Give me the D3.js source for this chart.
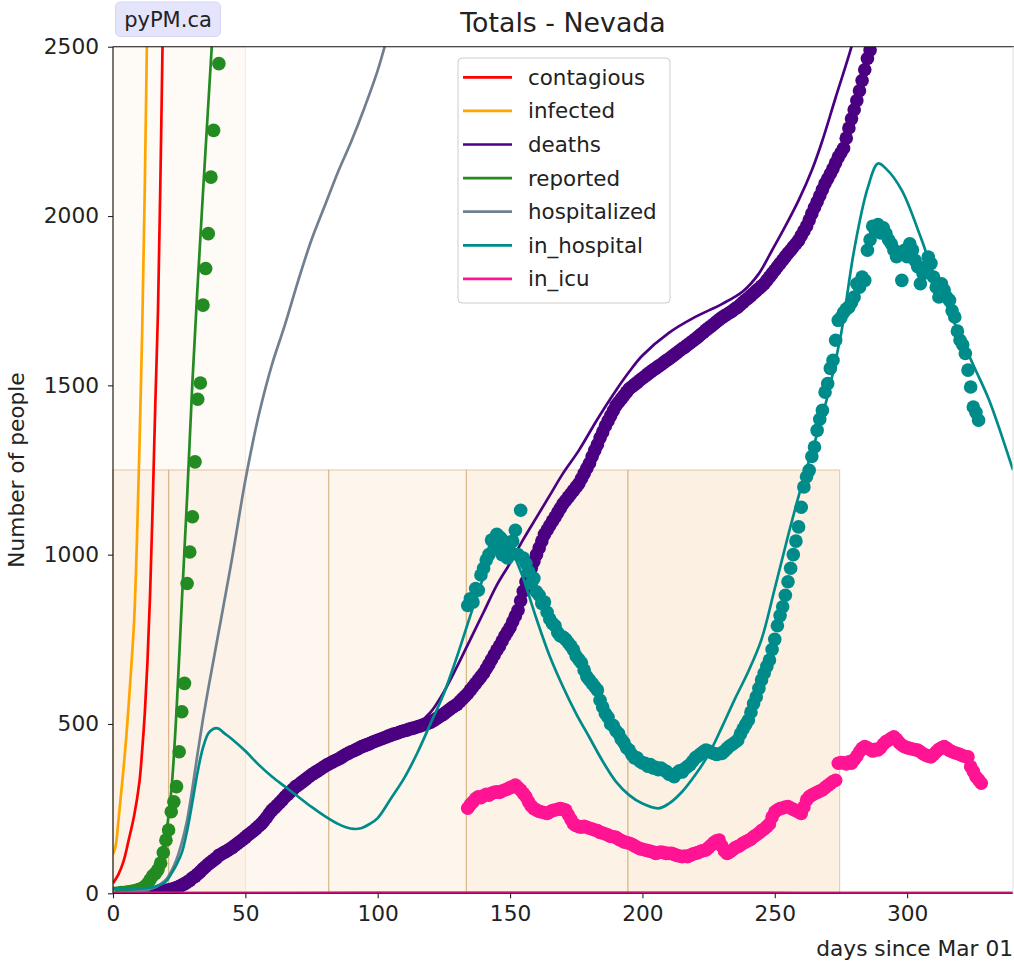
<!DOCTYPE html>
<html>
<head>
<meta charset="utf-8">
<script src="https://cdn.jsdelivr.net/npm/d3@7"></script>
<style>
	body { margin: 0; background: #fff; }
	text { font-family: "DejaVu Sans", sans-serif; fill: #222; }
</style>
</head>
<body>
<div class="chart"></div>
<script>
/*---------------------------DATA--------------------------*/

var title = 'Totals - Nevada';
var xTicks = [0, 50, 100, 150, 200, 250, 300];
var yTicks = [0, 500, 1000, 1500, 2000, 2500];
var spanEdges = [0, 21, 81.5, 133.5, 194.5, 274.5];   // shaded periods, days
var fitBand = [0, 50];

// model lines, [day, people]
var contagiousModel = [[0,30],[2,55],[4,95],[6,160],[8,230],[10,330],[11,420],[12,530],[13,680],[14,880],[15,1150],[16,1450],[17,1720],[18,2150],[19,2650]];
var infectedModel = [[0,115],[1,140],[2,210],[3,290],[4,370],[5,460],[6,565],[7,680],[8,807],[9,1030],[10,1320],[11,1650],[12,2080],[13,2620]];
var deathsModel = [[0,0],[15,1],[20,5],[25,15],[30,42],[35,78],[40,110],[50,165],[60,240],[70,315],[80,372],[90,420],[100,455],[110,482],[115,500],[120,535],[125,595],[130,670],[135,750],[140,830],[145,910],[150,975],[155,1045],[160,1110],[165,1175],[170,1240],[176,1308],[183,1400],[190,1485],[195,1540],[200,1588],[210,1655],[220,1702],[230,1740],[238,1778],[244,1830],[249,1899],[254,1970],[259,2046],[264,2135],[268,2223],[273,2350],[279,2500],[283,2620]];
var reportedModel = [[0,15],[5,18],[10,28],[14,45],[16,65],[18,105],[20,175],[22,300],[24,540],[26,860],[28,1170],[30,1510],[32,1800],[34,2070],[36,2330],[38,2590]];
var hospitalizedModel = [[0,0],[15,15],[20,40],[22,65],[24,100],[26,150],[28,216],[30,310],[32,415],[34,515],[36,605],[38,690],[40,775],[42,860],[45,990],[48,1130],[50,1220],[55,1410],[60,1560],[65,1680],[70,1810],[75,1930],[80,2030],[85,2130],[90,2220],[95,2320],[100,2430],[104,2540]];
var inHospitalModel = [[0,12],[10,14],[15,18],[20,35],[22,58],[24,85],[26,120],[28,185],[30,270],[32,360],[34,430],[36,472],[38,486],[39,488],[40,486],[42,473],[45,455],[50,420],[55,380],[60,345],[65,315],[70,285],[75,255],[80,228],[85,205],[88,195],[91,190],[94,193],[97,205],[100,222],[105,280],[110,340],[115,415],[120,502],[125,590],[130,700],[135,820],[140,935],[145,1040],[147,1063],[149,1050],[152,990],[155,930],[160,810],[165,700],[170,610],[175,530],[180,460],[185,390],[190,330],[195,290],[200,265],[206,251],[210,265],[215,300],[220,350],[225,410],[230,490],[235,575],[240,655],[245,750],[250,900],[255,1055],[260,1200],[265,1330],[270,1470],[275,1650],[280,1900],[285,2080],[289,2155],[292,2140],[298,2076],[305,1940],[310,1830],[318,1682],[325,1560],[331,1456],[340,1250]];
var inIcuModel = [[0,1],[100,2],[200,2],[340,1]];

// observed data
var reportedData = [[3,2],[4,2],[5,3],[6,4],[7,5],[8,6],[9,8],[10,11],[11,14],[12,20],[13,28],[14,40],[15,52],[16,59],[17,70],[18,89],[19,120],[20,157],[21,187],[22,241],[23,270],[24,315],[25,418],[26,536],[27,620],[28,915],[29,1008],[30,1112],[31,1274],[32,1459],[33,1507],[34,1737],[35,1845],[36,1948],[37,2115],[38,2253],[40,2450]];

var deathsStart = 16;
var deathsData = [2,3,4,6,8,10,12,14,17,20,24,28,33,38,
	45,50,57,64,72,79,86,92,98,104,
	112,116,121,125,130,135,141,147,153,159,
	165,172,178,184,191,198,205,214,224,235,
	245,252,260,268,276,285,292,300,307,315,
	320,326,332,338,344,350,355,360,365,370,
	375,380,384,388,392,396,400,405,410,414,
	418,421,425,429,433,436,439,442,446,449,
	452,455,458,461,464,467,470,472,475,478,
	480,482,485,487,489,492,494,497,500,502,
	505,510,515,520,525,530,536,542,548,553,
	558,566,574,582,590,600,610,620,630,640,
	650,663,676,690,704,718,730,745,760,772,
	785,802,819,836,864,892,920,940,960,980,
	1000,1020,1040,1060,1073,1086,1099,1111,1124,1137,
	1150,1160,1170,1180,1190,1200,1210,1225,1240,1255,
	1270,1290,1308,1325,1345,1362,1380,1395,1410,1425,
	1440,1450,1460,1470,1480,1490,1496,1502,1508,1515,
	1521,1527,1533,1539,1545,1550,1556,1561,1567,1573,
	1578,1584,1590,1596,1602,1608,1613,1619,1625,1631,
	1637,1643,1650,1656,1663,1669,1675,1681,1688,1694,
	1700,1705,1710,1715,1720,1726,1731,1738,1745,1752,
	1758,1765,1772,1779,1786,1793,1800,1810,1820,1830,
	1840,1850,1860,1870,1880,1890,1899,1909,1918,1928,
	1942,1956,1970,1988,2007,2025,2042,2060,2078,2096,
	2110,2125,2140,2157,2174,2187,2200,2230,2260,2287,
	2314,2341,2370,2400,2432,2465,2490];

var inHospitalStart = 134;
var inHospitalData = [850,870,860,900,895,940,960,984,1000,1043,1020,1060,1053,1000,1033,990,1010,1040,1072,1000,1131,990,974,950,915,930,
	890,880,856,860,830,810,797,790,770,760,757,750,740,730,718,700,690,680,659,640,
	630,620,610,600,570,550,531,520,500,495,480,472,455,445,430,423,410,400,400,390,
	385,384,375,380,370,372,365,370,364,360,352,350,344,355,362,358,368,374,380,390,
	400,405,412,418,423,420,416,413,410,412,413,420,428,435,440,446,452,470,485,498,
	511,535,560,580,605,630,650,670,689,720,750,790,820,846,880,920,960,1000,1040,1082,
	1140,1200,1230,1249,1290,1318,1367,1400,1426,1480,1505,1550,1574,1633,1692,1700,1715,1725,1731,1745,
	1761,1800,1790,1820,1810,1899,1930,1970,1958,1975,1950,1965,1948,1930,1918,1900,1880,1890,1810,1899,
	1880,1918,1900,1869,1850,1800,1830,1850,1879,1860,1820,1790,1761,1800,1781,1760,1751,1720,1702,1660,
	1633,1620,1594,1545,1495,1436,1420,1397];

var inIcuStart = 134;
var inIcuData = [251,262,270,280,285,282,288,292,290,295,298,300,298,302,305,308,312,315,320,312,305,295,285,270,258,250,
	246,242,240,238,236,240,244,246,248,250,248,246,232,218,205,200,197,195,198,195,
	192,190,187,185,180,178,175,172,168,167,165,160,156,152,150,148,145,140,136,132,
	130,128,126,124,122,118,120,122,120,118,118,118,115,112,110,108,110,108,112,116,
	118,120,124,126,128,135,142,150,155,157,140,125,118,122,128,134,138,142,148,152,
	156,160,167,172,178,185,190,197,205,225,240,246,250,252,255,256,252,248,244,240,
	236,255,275,285,290,294,298,302,305,312,318,324,330,334,384,386,385,382,388,384,
	395,405,418,428,433,430,425,420,425,423,430,440,448,452,458,462,455,445,438,433,
	430,428,426,424,423,418,412,408,405,403,410,418,425,430,433,428,422,418,415,413,
	410,406,404,403,374,360,344,335,325];

/*---------------------------SETUP--------------------------*/

var w = 1014;
var h = 962;
var pLeft = 113, pRight = 1013, pTop = 46.7, pBottom = 893.3;
var fontSize = '21.7px';

var x = d3.scaleLinear().domain([0, 340]).range([pLeft, pRight]);
var y = d3.scaleLinear().domain([0, 2500]).range([pBottom, pTop]);

var svg = d3.select('.chart').append('svg')
	.attr('width', w)
	.attr('height', h);

svg.append('defs').append('clipPath')
	.attr('id', 'plotClip')
	.append('rect')
	.attr('x', pLeft)
	.attr('y', pTop)
	.attr('width', pRight - pLeft)
	.attr('height', pBottom - pTop);

/*---------------------------SHADED PERIODS--------------------------*/

var spanAlpha = [0.12, 0.12, 0.15, 0.2, 0.24];

svg.append('rect')
	.attr('x', x(fitBand[0]))
	.attr('y', y(2500))
	.attr('width', x(fitBand[1]) - x(fitBand[0]))
	.attr('height', y(0) - y(2500))
	.attr('fill', 'rgba(240,192,128,0.08)')
	.attr('stroke', 'rgba(215,170,110,0.25)');

svg.selectAll('.span').data(d3.range(spanEdges.length - 1))
	.enter()
	.append('rect')
	.attr('class', 'span')
	.attr('x', function(i) { return x(spanEdges[i]); })
	.attr('y', y(1250))
	.attr('width', function(i) { return x(spanEdges[i + 1]) - x(spanEdges[i]); })
	.attr('height', y(0) - y(1250))
	.attr('fill', function(i) { return 'rgba(240,192,128,' + spanAlpha[i] + ')'; })
	.attr('stroke', 'rgba(205,160,100,0.45)')
	.attr('stroke-width', 1.2);

/*---------------------------SERIES--------------------------*/

var toPairs = function(start, values) {
	return values.map(function(v, i) { return [start + i, v]; });
};

var series = [
	{name: 'contagious', color: 'red', model: contagiousModel, data: null},
	{name: 'infected', color: 'orange', model: infectedModel, data: null},
	{name: 'deaths', color: 'indigo', model: deathsModel, data: toPairs(deathsStart, deathsData)},
	{name: 'reported', color: 'forestgreen', model: reportedModel, data: reportedData},
	{name: 'hospitalized', color: 'slategrey', model: hospitalizedModel, data: null},
	{name: 'in_hospital', color: 'darkcyan', model: inHospitalModel, data: toPairs(inHospitalStart, inHospitalData)},
	{name: 'in_icu', color: 'deeppink', model: inIcuModel, data: toPairs(inIcuStart, inIcuData)}
];

var line = d3.line()
	.x(function(d) { return x(d[0]); })
	.y(function(d) { return y(d[1]); })
	.curve(d3.curveCatmullRom.alpha(0.5));

var plot = svg.append('g').attr('clip-path', 'url(#plotClip)');

series.forEach(function(s) {
	plot.append('path')
		.datum(s.model)
		.attr('d', line)
		.attr('fill', 'none')
		.attr('stroke', s.color)
		.attr('stroke-width', 2.7);

	if (s.data) {
		plot.append('g').selectAll('circle').data(s.data)
			.enter()
			.append('circle')
			.attr('cx', function(d) { return x(d[0]); })
			.attr('cy', function(d) { return y(d[1]); })
			.attr('r', 6.8)
			.attr('fill', s.color);
	}
});

/*---------------------------AXES--------------------------*/

var xAxis = svg.append('g')
	.attr('transform', 'translate(0,' + pBottom + ')')
	.call(d3.axisBottom(x).tickValues(xTicks).tickFormat(d3.format('d')).tickSize(5).tickPadding(7));

var yAxis = svg.append('g')
	.attr('transform', 'translate(' + pLeft + ',0)')
	.call(d3.axisLeft(y).tickValues(yTicks).tickFormat(d3.format('d')).tickSize(5).tickPadding(9));

[xAxis, yAxis].forEach(function(a) {
	a.select('.domain').remove();
	a.selectAll('line').attr('stroke', '#222').attr('stroke-width', 1.1);
	a.selectAll('text').style('font-size', fontSize).attr('fill', '#222');
});

// spines
svg.append('line').attr('x1', pLeft).attr('x2', pLeft).attr('y1', pTop).attr('y2', pBottom)
	.attr('stroke', '#111').attr('stroke-width', 1.1);
svg.append('line').attr('x1', pLeft).attr('x2', pRight).attr('y1', pBottom).attr('y2', pBottom)
	.attr('stroke', '#111').attr('stroke-width', 1.1);
svg.append('line').attr('x1', pLeft).attr('x2', w).attr('y1', pTop).attr('y2', pTop)
	.attr('stroke', '#111').attr('stroke-width', 1.1);
svg.append('line').attr('x1', pRight).attr('x2', pRight).attr('y1', pTop).attr('y2', pBottom)
	.attr('stroke', '#ddd').attr('stroke-width', 1);

/*---------------------------LABELS--------------------------*/

svg.append('text')
	.attr('x', (pLeft + pRight) / 2)
	.attr('y', 32)
	.attr('text-anchor', 'middle')
	.style('font-size', '26.8px')
	.text(title);

svg.append('text')
	.attr('transform', 'translate(24,' + ((pTop + pBottom) / 2) + ') rotate(-90)')
	.attr('text-anchor', 'middle')
	.style('font-size', fontSize)
	.text('Number of people');

svg.append('text')
	.attr('x', pRight)
	.attr('y', 956)
	.attr('text-anchor', 'end')
	.style('font-size', fontSize)
	.text('days since Mar 01');

var badge = svg.append('g');
badge.append('rect')
	.attr('x', 115.5)
	.attr('y', 2)
	.attr('width', 105)
	.attr('height', 34.5)
	.attr('rx', 5)
	.attr('fill', '#e4e4fa')
	.attr('stroke', '#d4d4f2');
badge.append('text')
	.attr('x', 168)
	.attr('y', 26.5)
	.attr('text-anchor', 'middle')
	.style('font-size', '21px')
	.text('pyPM.ca');

/*---------------------------LEGEND--------------------------*/

var legend = svg.append('g').attr('transform', 'translate(458,58)');

legend.append('rect')
	.attr('width', 212)
	.attr('height', 245)
	.attr('rx', 4)
	.attr('fill', 'rgba(255,255,255,0.85)')
	.attr('stroke', '#ccc');

var rows = legend.selectAll('.row').data(series)
	.enter()
	.append('g')
	.attr('class', 'row')
	.attr('transform', function(d, i) { return 'translate(0,' + (19.3 + i * 33.6) + ')'; });

rows.append('line')
	.attr('x1', 5)
	.attr('x2', 54)
	.attr('stroke', function(d) { return d.color; })
	.attr('stroke-width', 2.7);

rows.append('text')
	.attr('x', 70)
	.attr('dy', '0.35em')
	.style('font-size', '21.4px')
	.text(function(d) { return d.name; });
</script>
</body>
</html>
